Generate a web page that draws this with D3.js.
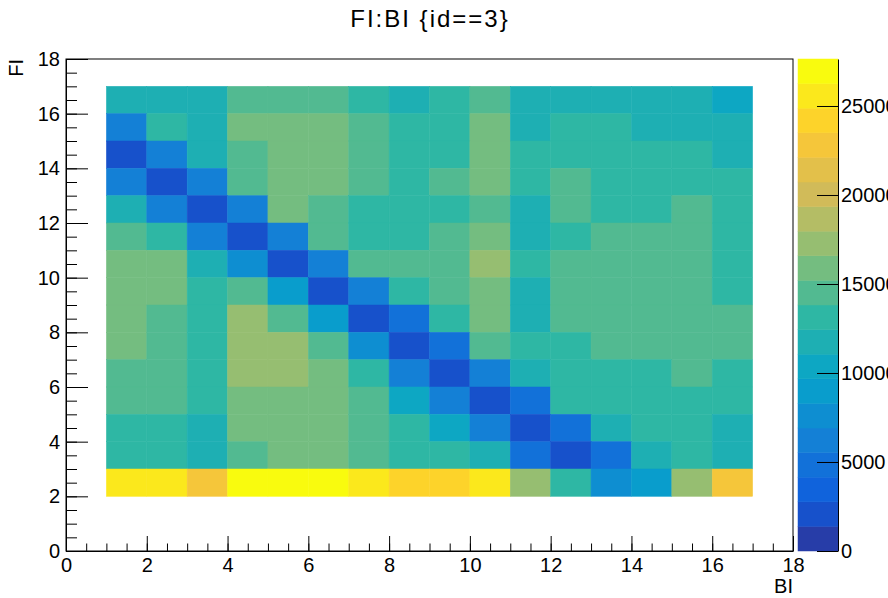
<!DOCTYPE html>
<html>
<head>
<meta charset="utf-8">
<script src="https://cdn.jsdelivr.net/npm/d3@7"></script>
<style>
  body { margin: 0; background: #fff; }
  svg { font-family: "Liberation Sans", Arial, sans-serif; }
</style>
</head>
<body>
<div id="chart"></div>
<script>
// bin lower edges (1 unit wide)
const blBins = [1, 2, 3, 4, 5, 6, 7, 8, 9, 10, 11, 12, 13, 14, 15, 16];
const flBins = [16, 15, 14, 13, 12, 11, 10, 9, 8, 7, 6, 5, 4, 3, 2];

// counts, one row per FI bin (top row first), one column per BI bin
const counts = [
  [11900, 11700, 11800, 14600, 14400, 14700, 13200, 11900, 13000, 14300, 11600, 11800, 11700, 11900, 11500, 10400],
  [6300, 13300, 12000, 15800, 15900, 15700, 14500, 13100, 13200, 16000, 11800, 13000, 12900, 11900, 11800, 12000],
  [2100, 6200, 11900, 14400, 15900, 16000, 14600, 13100, 13000, 15800, 13200, 13100, 12900, 13000, 13100, 12100],
  [6100, 2000, 6300, 14500, 15700, 15900, 14400, 13300, 14500, 15900, 13000, 14300, 13100, 13200, 13000, 12900],
  [11800, 6200, 2200, 6100, 15800, 14600, 13200, 13000, 13100, 14700, 11900, 14400, 13000, 13200, 14500, 13100],
  [14400, 13200, 6000, 2100, 6300, 14500, 13100, 12900, 14600, 15700, 11700, 13300, 14400, 14500, 14600, 13000],
  [15800, 15900, 11800, 7500, 2000, 6100, 14500, 14400, 14700, 17300, 13000, 14600, 14500, 14400, 14300, 13100],
  [15900, 16000, 13000, 14500, 9000, 2200, 6200, 13100, 14400, 15800, 11800, 14600, 14500, 14700, 14400, 13200],
  [15700, 14500, 13100, 17200, 14400, 8900, 2100, 5000, 13200, 15900, 11700, 14500, 14600, 14400, 14500, 14600],
  [15800, 14600, 13000, 17400, 17100, 14300, 7600, 1900, 4900, 14500, 13100, 13000, 14400, 14500, 14600, 14400],
  [14500, 14400, 13200, 17300, 17200, 15800, 13100, 6200, 2100, 6300, 11800, 13000, 13200, 13100, 14500, 13000],
  [14600, 14500, 13100, 15900, 15800, 16000, 14400, 10300, 6100, 2000, 5100, 13100, 13000, 13200, 12900, 13100],
  [13200, 13100, 11900, 15700, 15900, 15800, 14500, 13000, 10500, 6200, 2200, 4800, 11900, 13100, 13000, 11800],
  [13100, 13000, 11700, 14400, 15800, 15900, 14600, 13200, 13100, 11800, 5000, 2000, 4900, 11900, 13000, 11700],
  [25600, 25400, 22800, 27300, 27640, 27500, 25500, 24100, 24300, 25700, 17200, 13100, 7700, 9000, 17300, 22900]
];

const axisTicks = [0, 2, 4, 6, 8, 10, 12, 14, 16, 18];
const zTicks = [0, 5000, 10000, 15000, 20000, 25000];

const width = 888;
const height = 598;
const nContours = 20;

const svg = d3.select("#chart")
  .append("svg")
  .attr("width", width)
  .attr("height", height);

// scales
const x = d3.scaleLinear().domain([0, 18]).range([66, 793]);
const y = d3.scaleLinear().domain([0, 18]).range([551, 59]);
const zmax = d3.max(counts.flat());
const z = d3.scaleLinear().domain([0, zmax]).range([551, 59]);

// kBird palette, 255 colours, like ROOT
const stops = [0.0, 0.125, 0.25, 0.375, 0.5, 0.625, 0.75, 0.875, 1.0];
const red = [0.2082, 0.0592, 0.0780, 0.0232, 0.1802, 0.5301, 0.8186, 0.9956, 0.9764];
const green = [0.1664, 0.3599, 0.5041, 0.6419, 0.7178, 0.7492, 0.7328, 0.7862, 0.9832];
const blue = [0.5293, 0.8684, 0.8385, 0.7914, 0.6425, 0.4662, 0.3499, 0.1968, 0.0539];
const bird = d3.scaleLinear()
  .domain(stops)
  .range(stops.map((s, i) => d3.rgb(red[i] * 255, green[i] * 255, blue[i] * 255)))
  .interpolate(d3.interpolateRgb);
const nColors = 255;

function bandColor(b) {
  const idx = Math.floor((b + 0.99) * nColors / nContours);
  return bird(Math.min(idx, nColors - 1) / (nColors - 1));
}
function valueColor(v) {
  let b = Math.floor(0.01 + v * nContours / zmax);
  b = Math.max(0, Math.min(nContours - 1, b));
  return bandColor(b);
}

// cells
const cells = [];
flBins.forEach((fl, r) => {
  blBins.forEach((bl, c) => {
    cells.push({ bl: bl, fl: fl, v: counts[r][c] });
  });
});

svg.append("g")
  .selectAll("rect")
  .data(cells)
  .enter().append("rect")
  .attr("x", d => x(d.bl))
  .attr("y", d => y(d.fl + 1))
  .attr("width", d => x(d.bl + 1) - x(d.bl))
  .attr("height", d => y(d.fl) - y(d.fl + 1))
  .attr("fill", d => valueColor(d.v))
  .attr("stroke", d => valueColor(d.v))
  .attr("stroke-width", 0.5);

// frame
svg.append("rect")
  .attr("x", x(0))
  .attr("y", y(18))
  .attr("width", x(18) - x(0))
  .attr("height", y(0) - y(18))
  .attr("fill", "none")
  .attr("stroke", "#000")
  .attr("stroke-width", 1);

// axes
const fontSize = 20;
const xMinor = d3.range(0, 18.01, 0.5);
const yMinor = d3.range(0, 18.01, 0.5);

svg.append("g")
  .attr("transform", `translate(0, ${y(0)})`)
  .call(d3.axisBottom(x).tickValues(xMinor).tickSizeInner(-7.5).tickSizeOuter(0).tickFormat(""))
  .call(g => g.select(".domain").remove());
const xAxis = svg.append("g")
  .attr("transform", `translate(0, ${y(0)})`)
  .call(d3.axisBottom(x).tickValues(axisTicks).tickSizeInner(-15).tickSizeOuter(0).tickPadding(7));
xAxis.selectAll("text").style("font-size", fontSize + "px").attr("fill", "#000");

svg.append("g")
  .attr("transform", `translate(${x(0)}, 0)`)
  .call(d3.axisLeft(y).tickValues(yMinor).tickSizeInner(-11).tickSizeOuter(0).tickFormat(""))
  .call(g => g.select(".domain").remove());
const yAxis = svg.append("g")
  .attr("transform", `translate(${x(0)}, 0)`)
  .call(d3.axisLeft(y).tickValues(axisTicks).tickSizeInner(-22).tickSizeOuter(0).tickPadding(6));
yAxis.selectAll("text").style("font-size", fontSize + "px").attr("fill", "#000");

svg.selectAll(".tick line").attr("stroke", "#000");
svg.selectAll(".domain").attr("stroke", "#000");

// axis titles
svg.append("text")
  .attr("x", x(18))
  .attr("y", 593)
  .attr("text-anchor", "end")
  .style("font-size", fontSize + "px")
  .text("BI");
svg.append("text")
  .attr("transform", `translate(23, ${y(18)}) rotate(-90)`)
  .attr("text-anchor", "end")
  .style("font-size", fontSize + "px")
  .text("FI");

// title
svg.append("text")
  .attr("x", 430)
  .attr("y", 27)
  .attr("text-anchor", "middle")
  .style("font-size", "24px")
  .style("letter-spacing", "2px")
  .text("FI:BI {id==3}");

// palette
const palX0 = 798;
const palX1 = 838;
const bands = d3.range(nContours);
svg.append("g")
  .selectAll("rect")
  .data(bands)
  .enter().append("rect")
  .attr("x", palX0)
  .attr("y", b => z((b + 1) * zmax / nContours))
  .attr("width", palX1 - palX0)
  .attr("height", b => z(b * zmax / nContours) - z((b + 1) * zmax / nContours))
  .attr("fill", b => bandColor(b))
  .attr("stroke", b => bandColor(b))
  .attr("stroke-width", 0.5);

const zAxis = svg.append("g")
  .attr("transform", `translate(${palX1}, 0)`)
  .call(d3.axisRight(z).tickValues(zTicks).tickSizeInner(-21).tickSizeOuter(0).tickPadding(3).tickFormat(d3.format("d")));
zAxis.selectAll("text").style("font-size", fontSize + "px").attr("fill", "#000");
zAxis.selectAll("line, .domain").attr("stroke", "#000");
</script>
</body>
</html>
